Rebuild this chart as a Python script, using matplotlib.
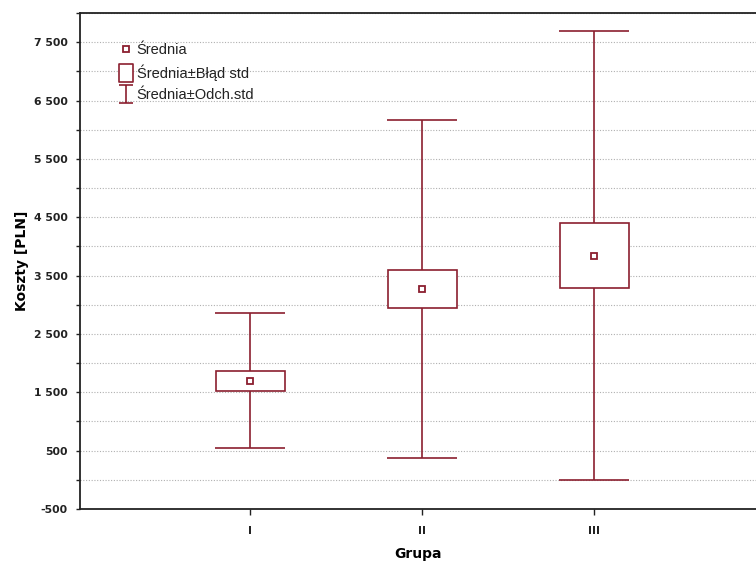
import matplotlib
matplotlib.use("Agg")
import matplotlib.pyplot as plt
from matplotlib.lines import Line2D
from matplotlib.path import Path
from matplotlib.ticker import FixedLocator, FuncFormatter

# ---- data ----
groups = ["I", "II", "III"]
means = [1700, 3270, 3840]
std_err = [170, 320, 560]
std_dev = [1160, 2900, 3850]
y_major = [-500, 500, 1500, 2500, 3500, 4500, 5500, 6500, 7500]
y_minor = [0, 1000, 2000, 3000, 4000, 5000, 6000, 7000, 8000]
legend_labels = ["Średnia", "Średnia±Błąd std", "Średnia±Odch.std"]

col = "#8b1f2f"
xpos = list(range(1, len(groups) + 1))

fig = plt.figure(figsize=(7.56, 5.67), dpi=100)
ax = fig.add_axes([80 / 756, 58 / 567, 1 - 80 / 756, (509 - 13) / 567])

# gridlines
for v in sorted(y_major + y_minor):
    ax.axhline(v, color="#b0b0b0", lw=0.8, ls=(0, (1, 1.5)), zorder=0)

# whiskers (mean ± sd)
ax.errorbar(xpos, means, yerr=std_dev, fmt="none", ecolor=col, elinewidth=1.2,
            capsize=25, capthick=1.2, zorder=2)
# boxes (mean ± se)
ax.bar(xpos, [2 * s for s in std_err], bottom=[m - s for m, s in zip(means, std_err)],
       width=0.4, color="white", edgecolor=col, linewidth=1.2, zorder=3)
# mean markers
ax.plot(xpos, means, ls="none", marker="s", ms=4.5, mfc="white", mec=col, mew=1.3, zorder=4)

ax.set_xlim(0.012, 3.938)
ax.set_ylim(-500, 8000)

ax.yaxis.set_major_locator(FixedLocator(y_major))
ax.yaxis.set_minor_locator(FixedLocator(y_minor))
ax.yaxis.set_major_formatter(FuncFormatter(lambda v, p: f"{int(v):,}".replace(",", " ")))
ax.set_xticks(xpos)
ax.set_xticklabels(groups)
ax.xaxis.set_minor_locator(FixedLocator(xpos))

for lab in ax.get_yticklabels() + ax.get_xticklabels():
    lab.set_fontweight("bold")
    lab.set_fontsize(7.8)
    lab.set_family("DejaVu Sans")
    lab.set_color("#222222")

ax.tick_params(axis="y", which="both", direction="out", length=3, width=1, pad=6, colors="#222222")
ax.tick_params(axis="x", which="major", direction="out", length=4, width=1, pad=8,
               top=False, bottom=True, colors="#222222")
# top ticks pointing inward (minor ticks at the category positions, top only)
ax.tick_params(axis="x", which="minor", direction="in", length=4, width=1,
               top=True, bottom=False, colors="#222222")

for s in ["left", "bottom", "top"]:
    ax.spines[s].set_linewidth(1.3)
    ax.spines[s].set_color("#222222")
ax.spines["right"].set_visible(False)

ax.set_ylabel("Koszty [PLN]", fontsize=10, fontweight="bold", family="DejaVu Sans", labelpad=3)
ax.set_xlabel("Grupa", fontsize=10, fontweight="bold", family="DejaVu Sans", labelpad=8)

# legend handles
box_path = Path([(-0.42, -0.5), (0.42, -0.5), (0.42, 0.5), (-0.42, 0.5), (-0.42, -0.5)],
                [Path.MOVETO, Path.LINETO, Path.LINETO, Path.LINETO, Path.CLOSEPOLY])
i_path = Path([(-0.42, 0.5), (0.42, 0.5), (0, 0.5), (0, -0.5), (-0.42, -0.5), (0.42, -0.5)],
              [Path.MOVETO, Path.LINETO, Path.MOVETO, Path.LINETO, Path.MOVETO, Path.LINETO])
h1 = Line2D([], [], ls="none", marker="s", ms=4.5, mfc="white", mec=col, mew=1.3)
h2 = Line2D([], [], ls="none", marker=box_path, ms=12.5, mfc="white", mec=col, mew=1.2)
h3 = Line2D([], [], ls="none", marker=i_path, ms=12.5, mfc="none", mec=col, mew=1.2)
leg = ax.legend([h1, h2, h3], legend_labels, loc="upper left",
                bbox_to_anchor=(0.044, 0.957), frameon=False,
                prop={"family": "Liberation Sans", "size": 10.5},
                handlelength=1.0, handletextpad=0.25, labelspacing=0.5,
                borderaxespad=0.2)
for t in leg.get_texts():
    t.set_color("#222222")

fig.savefig("out.png", dpi=100)
